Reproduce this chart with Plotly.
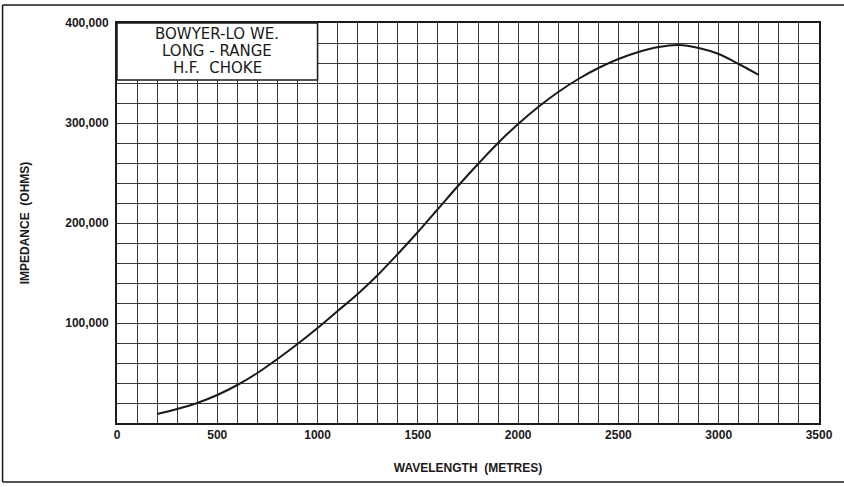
import plotly.graph_objects as go

# Impedance curve
wavelength = [200, 300, 400, 500, 600, 700, 800, 900, 1000, 1100, 1200, 1300, 1400,
              1500, 1600, 1700, 1800, 1900, 2000, 2100, 2200, 2300, 2400, 2500,
              2600, 2700, 2800, 2900, 3000, 3100, 3200]
impedance = [9000, 14000, 20000, 28000, 38000, 50000, 64000, 79000, 95000, 112000,
             129000, 148000, 169000, 191000, 214000, 237000, 259000, 280000, 299000,
             316000, 331000, 344000, 355000, 364000, 371000, 376000, 378000, 375000,
             369000, 359000, 348000]

x_ticks = [0, 500, 1000, 1500, 2000, 2500, 3000, 3500]
y_ticks = [100000, 200000, 300000, 400000]
y_labels = ["100,000", "200,000", "300,000", "400,000"]
box_lines = ["BOWYER-LO WE.", "LONG - RANGE", "H.F.  CHOKE"]

FONT = "Liberation Sans, Arial, sans-serif"
INK = "#1a1a1a"
GRID = "#3a3a3a"

fig = go.Figure(
    go.Scatter(
        x=wavelength, y=impedance, mode="lines",
        line=dict(color=INK, width=2, shape="spline", smoothing=1.0),
        hoverinfo="x+y", showlegend=False,
    )
)

fig.update_layout(
    width=844, height=487,
    margin=dict(l=117, r=25, t=23, b=64),
    paper_bgcolor="white", plot_bgcolor="white",
    font=dict(family=FONT, color=INK),
    xaxis=dict(
        range=[0, 3500], tickvals=x_ticks, ticks="",
        tickfont=dict(size=12, family=FONT, weight="bold"),
        showgrid=True, gridcolor=GRID, gridwidth=1,
        minor=dict(dtick=100, showgrid=True, gridcolor=GRID, gridwidth=1),
        showline=True, linecolor=INK, linewidth=2, mirror=True,
        zeroline=False,
        title=dict(text="WAVELENGTH  (METRES)", standoff=22,
                   font=dict(size=12, family=FONT, weight="bold")),
    ),
    yaxis=dict(
        range=[0, 400000], tickvals=y_ticks, ticktext=y_labels, ticks="",
        tickfont=dict(size=12, family=FONT, weight="bold"),
        showgrid=True, gridcolor=GRID, gridwidth=1,
        minor=dict(dtick=20000, showgrid=True, gridcolor=GRID, gridwidth=1),
        showline=True, linecolor=INK, linewidth=2, mirror=True,
        zeroline=False, ticklabelstandoff=4,
        title=dict(text="IMPEDANCE  (OHMS)", standoff=33,
                   font=dict(size=12, family=FONT, weight="bold")),
    ),
)

# label box in the top-left corner
fig.add_shape(type="rect", xref="x", yref="y", x0=0, x1=1000, y0=343000, y1=400000,
              fillcolor="white", line=dict(color=INK, width=1.5), layer="above")
for i, t in enumerate(box_lines):
    fig.add_annotation(xref="x", yref="y", x=500, y=389000 - i * 17000, text=t,
                       showarrow=False,
                       font=dict(size=15, family="DejaVu Sans, sans-serif", color=INK))

# page border lines
for x0, y0, x1, y1 in [(-0.163, 1.045, 1.04, 1.045), (-0.163, 1.045, -0.163, -0.1475),
                       (-0.163, -0.1475, 1.04, -0.1475)]:
    fig.add_shape(type="line", xref="paper", yref="paper", x0=x0, y0=y0, x1=x1, y1=y1,
                  line=dict(color=INK, width=1.5))

fig.write_html("out.html", config={"displayModeBar": False},
               post_script="document.body.style.margin='0';")
